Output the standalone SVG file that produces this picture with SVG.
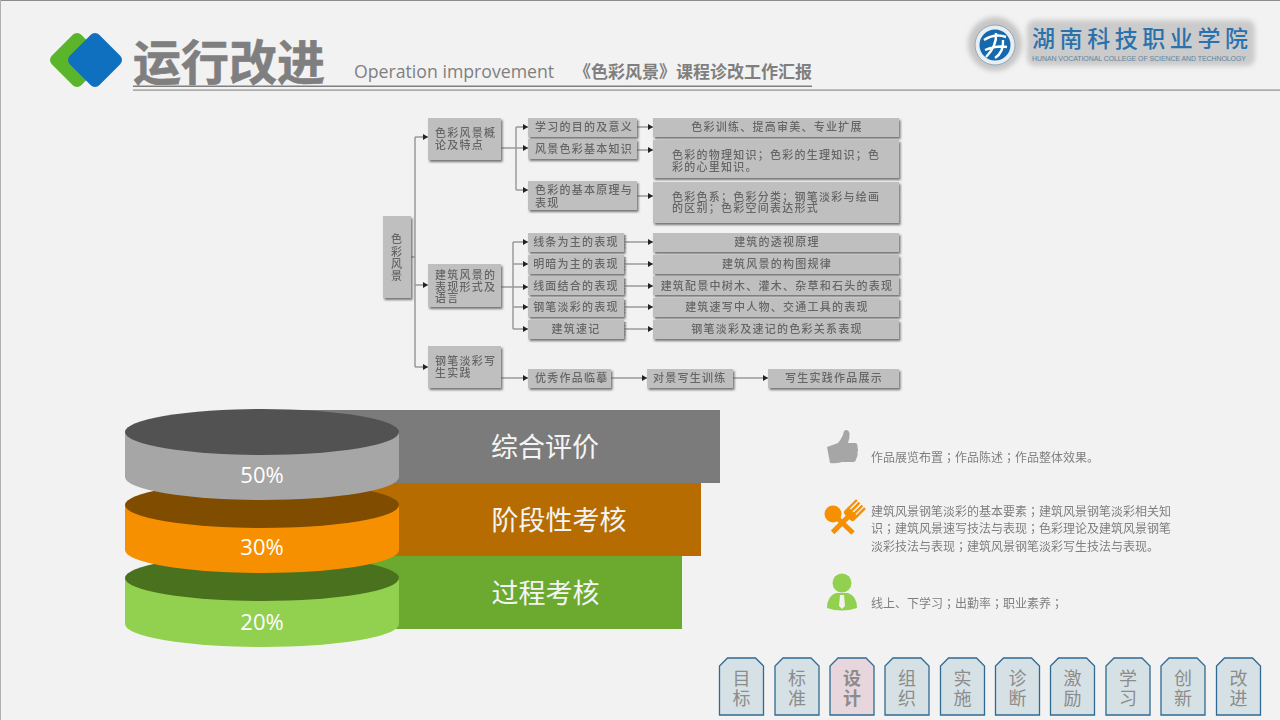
<svg xmlns="http://www.w3.org/2000/svg" width="1280" height="720" viewBox="0 0 1280 720">
<style>
.cjk{font-family:"Noto Sans CJK SC","Noto Sans",sans-serif}
.box{fill:#bfbfbf;filter:url(#sh)}
.t{font-family:"Noto Sans CJK SC",sans-serif;font-size:11px;font-weight:500;letter-spacing:1.25px;fill:#666;filter:url(#soft)}
.c{text-anchor:middle}
.ln{fill:none;stroke:#9a9a9a;stroke-width:1.5}
.arr{fill:none;stroke:#9a9a9a;stroke-width:1.5;marker-end:url(#ah)}
.tick{stroke:#8a8a8a;stroke-width:1;stroke-dasharray:1.5 1.5}
.pct{font-family:"Open Sans",sans-serif;font-size:22px;fill:#fff;text-anchor:middle}
.bl{font-family:"Noto Sans CJK SC",sans-serif;font-size:27px;fill:#f4f4f4;text-anchor:middle}
.d{font-family:"Noto Sans CJK SC",sans-serif;font-size:12px;fill:#7f7f7f;filter:url(#soft)}
.semi{font-family:"Noto Sans CJK TC",sans-serif}
.bd{fill:#d6e1e6;stroke:#2f6a92;stroke-width:1.3}
.bt{font-family:"Noto Sans CJK SC",sans-serif;font-size:18px;fill:#8c8c8c;text-anchor:middle}
</style>
<defs>
<filter id="sh" x="-10%" y="-10%" width="125%" height="135%"><feDropShadow dx="1.5" dy="2" stdDeviation="1" flood-color="#555" flood-opacity=".8"/></filter>
<filter id="soft" x="-5%" y="-20%" width="110%" height="140%"><feGaussianBlur stdDeviation="0.3"/></filter>
<filter id="halo" x="-10%" y="-30%" width="120%" height="160%"><feGaussianBlur stdDeviation="2.5"/></filter>
<marker id="ah" markerWidth="6" markerHeight="7" refX="5" refY="3.5" orient="auto" markerUnits="userSpaceOnUse"><path d="M0 .5L5 3.500L0 6.500Z" fill="#222"/></marker>
<polygon id="tab" class="bd" points="8,0 36,0 44,8 44,57 0,57 0,8"/>
<polygon id="dia" points="95,39 116,60 95,81 74,60" stroke-width="12" stroke-linejoin="round"/>
</defs>
<rect width="1280" height="720" fill="#f2f2f2"/>
<rect width="1280" height="1" fill="#8c8c8c"/>
<rect width="1" height="720" fill="#b0b0b0"/>

<g id="header">
<use href="#dia" x="-18" fill="#5bb52a" stroke="#5bb52a"/>
<use href="#dia" fill="#0f70c0" stroke="#0f70c0"/>
<text x="133" y="80" class="cjk" font-size="48" font-weight="700" fill="#7f7f7f" stroke="#7f7f7f" stroke-width=".6">运行改进</text>
<text x="354" y="78" font-family="Open Sans,sans-serif" font-size="17.700" fill="#7f7f7f">Operation improvement</text>
<text x="574" y="78" class="cjk" font-size="17" font-weight="700" fill="#7f7f7f">《色彩风景》课程诊改工作汇报</text>
<rect x="133" y="85.500" width="679" height="1.500" fill="#7f7f7f"/>
<rect x="133" y="89.500" width="1147" height="1.200" fill="#8c8c8c"/>
</g>

<g id="logo">
<circle cx="995" cy="44" r="27" fill="#c6c6c6" filter="url(#halo)"/>
<rect x="1027" y="20" width="228" height="46" rx="8" fill="#cbcbcb" filter="url(#halo)"/>
<circle cx="995" cy="45" r="20" fill="#e8eef2" stroke="#8fa9bb"/>
<circle cx="995" cy="45" r="15.500" fill="#1669ad"/>
<path d="M984 40Q995 33 1006 37M985 50Q997 45 1007 47M986 57Q997 46 996 33M995 58Q1004 52 1003 40" fill="none" stroke="#fff" stroke-width="2.400"/>
<text x="1032" y="47" class="cjk" font-size="23" font-weight="500" fill="#2a72ad" textLength="216" lengthAdjust="spacing">湖南科技职业学院</text>
<text x="1032" y="61" font-family="Liberation Sans,sans-serif" font-size="7" fill="#5f85a0" textLength="214" lengthAdjust="spacing">HUNAN VOCATIONAL COLLEGE OF SCIENCE AND TECHNOLOGY</text>
</g>

<g id="connectors">
<path class="ln" d="M411 257H415M415 137V367"/>
<path class="arr" d="M415 137H428"/><path class="arr" d="M415 285H428"/><path class="arr" d="M415 367H428"/>
<path class="ln" d="M516 127V190"/>
<path class="arr" d="M516 127H528"/><path class="arr" d="M501 148H528"/><path class="arr" d="M516 190H528"/>
<path class="arr" d="M637 127H653"/><path class="arr" d="M637 150H653"/><path class="arr" d="M637 196H653"/>
<path class="ln" d="M513 242V329"/>
<path class="arr" d="M513 242H528"/><path class="arr" d="M513 264H528"/><path class="arr" d="M501 287H528"/><path class="arr" d="M513 307H528"/><path class="arr" d="M513 329H528"/>
<path class="arr" d="M625 242H653"/><path class="arr" d="M625 264H653"/><path class="arr" d="M625 286H653"/><path class="arr" d="M625 307H653"/><path class="arr" d="M625 329H653"/>
<path class="tick" d="M625 235V250M625 257V272M625 279V294M625 300V315M625 322V337"/>
<path class="arr" d="M501 378H528"/><path class="arr" d="M611 378H647"/><path class="arr" d="M733 378H768"/>
</g>

<g id="n-root"><rect class="box" x="383" y="216" width="28" height="82"/>
<text class="t c"><tspan x="397" y="243">色</tspan><tspan x="397" y="256">彩</tspan><tspan x="397" y="268">风</tspan><tspan x="397" y="280">景</tspan></text></g>
<g id="n-a"><rect class="box" x="428" y="118" width="73" height="42"/>
<text class="t"><tspan x="435" y="137">色彩风景概</tspan><tspan x="435" y="149">论及特点</tspan></text></g>
<g id="n-b"><rect class="box" x="428" y="264" width="73" height="43"/>
<text class="t"><tspan x="435" y="279">建筑风景的</tspan><tspan x="435" y="291">表现形式及</tspan><tspan x="435" y="302">语言</tspan></text></g>
<g id="n-c"><rect class="box" x="428" y="346" width="73" height="42"/>
<text class="t"><tspan x="435" y="365">钢笔淡彩写</tspan><tspan x="435" y="377">生实践</tspan></text></g>

<g id="n-a1"><rect class="box" x="528" y="118" width="109" height="19"/><text class="t" x="535" y="131">学习的目的及意义</text></g>
<g id="n-a2"><rect class="box" x="528" y="139" width="109" height="20"/><text class="t" x="535" y="153">风景色彩基本知识</text></g>
<g id="n-a3"><rect class="box" x="528" y="181" width="109" height="29"/><text class="t"><tspan x="535" y="194">色彩的基本原理与</tspan><tspan x="535" y="207">表现</tspan></text></g>
<g id="n-r1"><rect class="box" x="653" y="118" width="246" height="19"/><text class="t c" x="777" y="131">色彩训练、提高审美、专业扩展</text></g>
<g id="n-r2"><rect class="box" x="653" y="140" width="246" height="38"/><text class="t"><tspan x="672" y="159">色彩的物理知识；色彩的生理知识；色</tspan><tspan x="672" y="171">彩的心里知识。</tspan></text></g>
<g id="n-r3"><rect class="box" x="653" y="182" width="246" height="41"/><text class="t"><tspan x="672" y="201">色彩色系；色彩分类；钢笔淡彩与绘画</tspan><tspan x="672" y="212">的区别；色彩空间表达形式</tspan></text></g>

<g id="n-b1"><rect class="box" x="528" y="233" width="96" height="19"/><text class="t c" x="576" y="246">线条为主的表现</text></g>
<g id="n-b2"><rect class="box" x="528" y="255" width="96" height="19"/><text class="t c" x="576" y="268">明暗为主的表现</text></g>
<g id="n-b3"><rect class="box" x="528" y="276" width="96" height="19"/><text class="t c" x="576" y="290">线面结合的表现</text></g>
<g id="n-b4"><rect class="box" x="528" y="298" width="96" height="19"/><text class="t c" x="576" y="311">钢笔淡彩的表现</text></g>
<g id="n-b5"><rect class="box" x="528" y="320" width="96" height="19"/><text class="t c" x="576" y="333">建筑速记</text></g>
<g id="n-s1"><rect class="box" x="653" y="233" width="246" height="19"/><text class="t c" x="777" y="246">建筑的透视原理</text></g>
<g id="n-s2"><rect class="box" x="653" y="255" width="246" height="19"/><text class="t c" x="777" y="268">建筑风景的构图规律</text></g>
<g id="n-s3"><rect class="box" x="653" y="276" width="246" height="19"/><text class="t c" x="777" y="290">建筑配景中树木、灌木、杂草和石头的表现</text></g>
<g id="n-s4"><rect class="box" x="653" y="298" width="246" height="19"/><text class="t c" x="777" y="311">建筑速写中人物、交通工具的表现</text></g>
<g id="n-s5"><rect class="box" x="653" y="320" width="246" height="19"/><text class="t c" x="777" y="333">钢笔淡彩及速记的色彩关系表现</text></g>
<g id="n-c1"><rect class="box" x="528" y="369" width="83" height="19"/><text class="t" x="535" y="382">优秀作品临摹</text></g>
<g id="n-c2"><rect class="box" x="647" y="369" width="86" height="19"/><text class="t" x="653" y="382">对景写生训练</text></g>
<g id="n-c3"><rect class="box" x="768" y="369" width="131" height="19"/><text class="t c" x="834" y="382">写生实践作品展示</text></g>

<g id="bars">
<rect x="262" y="410" width="458" height="73" fill="#7b7b7b"/>
<rect x="262" y="483" width="439" height="73" fill="#b66c00"/>
<rect x="262" y="556" width="420" height="73" fill="#6ca92f"/>
<text class="bl" x="545" y="457">综合评价</text>
<text class="bl" x="559" y="530">阶段性考核</text>
<text class="bl" x="545.500" y="603">过程考核</text>
</g>
<g id="disc-green">
<path d="M125 578V624A137 23 0 0 0 399 624V578Z" fill="#92d050"/>
<ellipse cx="262" cy="578" rx="137" ry="23" fill="#4a721e"/>
<text class="pct" x="262" y="630">20%</text>
</g>
<g id="disc-orange">
<path d="M125 505V550A137 23 0 0 0 399 550V505Z" fill="#f79000"/>
<ellipse cx="262" cy="505" rx="137" ry="23" fill="#7f4c00"/>
<text class="pct" x="262" y="555">30%</text>
</g>
<g id="disc-gray">
<path d="M125 432V477A137 23 0 0 0 399 477V432Z" fill="#a6a6a6"/>
<ellipse cx="262" cy="432" rx="137" ry="23" fill="#525252"/>
<text class="pct" x="262" y="483">50%</text>
</g>

<g id="item-1">
<path d="M827 447L838 443Q843 437 844 431Q848 428 849.500 433Q850 438 848 443L856 443Q858 444 857.500 447Q858.500 450 857.500 452Q858 456 856.500 458Q856 461 854 462L842 462Q836 464 830 463Z" fill="#a6a6a6"/>
<text class="d" x="871" y="462">作品展览布置<tspan class="semi">；</tspan>作品陈述<tspan class="semi">；</tspan>作品整体效果。</text>
</g>
<g id="item-2">
<g fill="#f79000">
<ellipse cx="833" cy="514" rx="8.500" ry="8.500"/>
<path d="M834 515L853 533" stroke="#f79000" stroke-width="5" fill="none"/>
<g transform="translate(851 514) rotate(45)">
<rect x="-7" y="-14" width="2.400" height="12"/><rect x="-3.200" y="-14" width="2.400" height="12"/><rect x="0.800" y="-14" width="2.400" height="12"/><rect x="4.600" y="-14" width="2.400" height="12"/>
<path d="M-7 -3H7V2Q7 5 2.500 5V26H-2.500V5Q-7 5 -7 2Z"/>
</g>
</g>
<text class="d"><tspan x="871" y="516">建筑风景钢笔淡彩的基本要素</tspan><tspan class="semi">；</tspan><tspan>建筑风景钢笔淡彩相关知</tspan><tspan x="871" y="533">识</tspan><tspan class="semi">；</tspan><tspan>建筑风景速写技法与表现</tspan><tspan class="semi">；</tspan><tspan>色彩理论及建筑风景钢笔</tspan><tspan x="871" y="551">淡彩技法与表现</tspan><tspan class="semi">；</tspan><tspan>建筑风景钢笔淡彩写生技法与表现。</tspan></text>
</g>
<g id="item-3">
<circle cx="842" cy="583" r="9.500" fill="#92d050"/>
<path d="M827 608Q827 596 836 593L848 593Q857 596 857 608Q842 613 827 608Z" fill="#92d050"/>
<path d="M840 595H844L845 606L842 609L839 606Z" fill="#f2f2f2"/>
<text class="d" x="871" y="608">线上、下学习<tspan class="semi">；</tspan>出勤率<tspan class="semi">；</tspan>职业素养<tspan class="semi">；</tspan></text>
</g>

<g id="tab-1" transform="translate(719.500 658)"><use href="#tab"/><text class="bt" x="22" y="27">目</text><text class="bt" x="22" y="47">标</text></g>
<g id="tab-2" transform="translate(775 658)"><use href="#tab"/><text class="bt" x="22" y="27">标</text><text class="bt" x="22" y="47">准</text></g>
<g id="tab-3" transform="translate(830 658)"><polygon class="bd" style="fill:#e8d6dd" points="8,0 36,0 44,8 44,57 0,57 0,8"/><text class="bt" x="22" y="27" font-weight="700">设</text><text class="bt" x="22" y="47" font-weight="700">计</text></g>
<g id="tab-4" transform="translate(885 658)"><use href="#tab"/><text class="bt" x="22" y="27">组</text><text class="bt" x="22" y="47">织</text></g>
<g id="tab-5" transform="translate(940.500 658)"><use href="#tab"/><text class="bt" x="22" y="27">实</text><text class="bt" x="22" y="47">施</text></g>
<g id="tab-6" transform="translate(995.500 658)"><use href="#tab"/><text class="bt" x="22" y="27">诊</text><text class="bt" x="22" y="47">断</text></g>
<g id="tab-7" transform="translate(1050.500 658)"><use href="#tab"/><text class="bt" x="22" y="27">激</text><text class="bt" x="22" y="47">励</text></g>
<g id="tab-8" transform="translate(1106 658)"><use href="#tab"/><text class="bt" x="22" y="27">学</text><text class="bt" x="22" y="47">习</text></g>
<g id="tab-9" transform="translate(1161 658)"><use href="#tab"/><text class="bt" x="22" y="27">创</text><text class="bt" x="22" y="47">新</text></g>
<g id="tab-10" transform="translate(1216.500 658)"><use href="#tab"/><text class="bt" x="22" y="27">改</text><text class="bt" x="22" y="47">进</text></g>
</svg>
